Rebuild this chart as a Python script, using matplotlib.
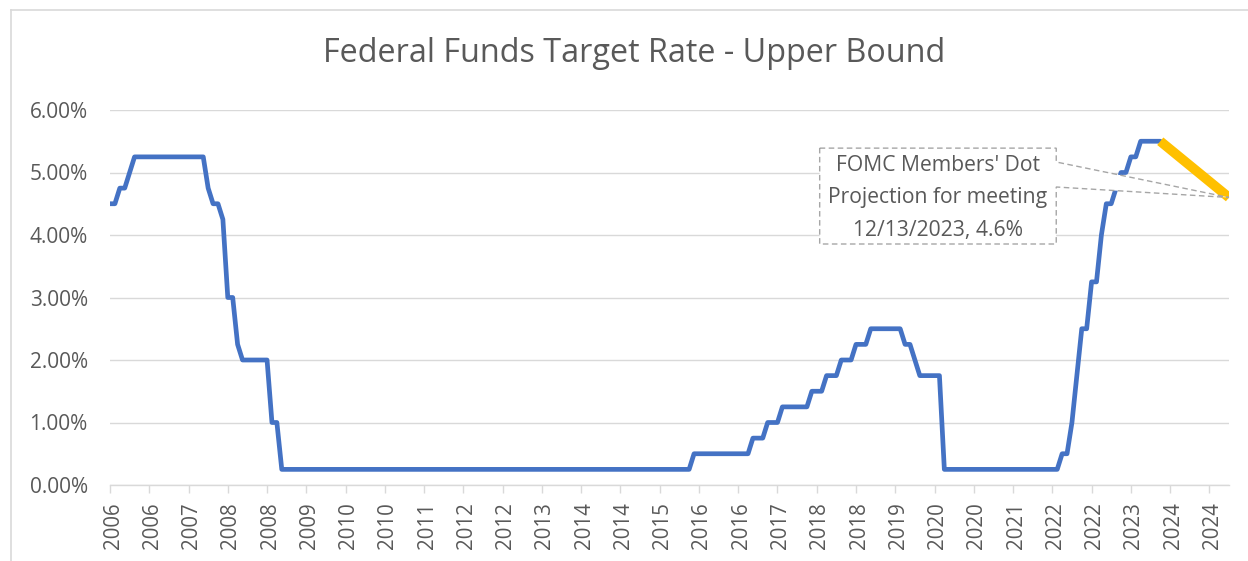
import numpy as np
import matplotlib.pyplot as plt
import matplotlib.transforms as mtransforms
from matplotlib.patches import Polygon
from matplotlib.lines import Line2D

plt.rcParams['font.family'] = ['Open Sans', 'DejaVu Sans']

# upper bound of fed funds target, end of month, Jan 2006 .. Nov 2023
rates_2006 = [4.50, 4.50, 4.75, 4.75, 5.00, 5.25, 5.25, 5.25, 5.25, 5.25, 5.25, 5.25]
rates_2007 = [5.25, 5.25, 5.25, 5.25, 5.25, 5.25, 5.25, 5.25, 4.75, 4.50, 4.50, 4.25]
rates_2008 = [3.00, 3.00, 2.25, 2.00, 2.00, 2.00, 2.00, 2.00, 2.00, 1.00, 1.00, 0.25]
rates_2009 = [0.25] * 12
rates_2010 = [0.25] * 12
rates_2011 = [0.25] * 12
rates_2012 = [0.25] * 12
rates_2013 = [0.25] * 12
rates_2014 = [0.25] * 12
rates_2015 = [0.25, 0.25, 0.25, 0.25, 0.25, 0.25, 0.25, 0.25, 0.25, 0.25, 0.25, 0.50]
rates_2016 = [0.50, 0.50, 0.50, 0.50, 0.50, 0.50, 0.50, 0.50, 0.50, 0.50, 0.50, 0.75]
rates_2017 = [0.75, 0.75, 1.00, 1.00, 1.00, 1.25, 1.25, 1.25, 1.25, 1.25, 1.25, 1.50]
rates_2018 = [1.50, 1.50, 1.75, 1.75, 1.75, 2.00, 2.00, 2.00, 2.25, 2.25, 2.25, 2.50]
rates_2019 = [2.50, 2.50, 2.50, 2.50, 2.50, 2.50, 2.25, 2.25, 2.00, 1.75, 1.75, 1.75]
rates_2020 = [1.75, 1.75, 0.25, 0.25, 0.25, 0.25, 0.25, 0.25, 0.25, 0.25, 0.25, 0.25]
rates_2021 = [0.25] * 12
rates_2022 = [0.25, 0.25, 0.50, 0.50, 1.00, 1.75, 2.50, 2.50, 3.25, 3.25, 4.00, 4.50]
rates_2023 = [4.50, 4.75, 5.00, 5.00, 5.25, 5.25, 5.50, 5.50, 5.50, 5.50, 5.50]

rates = (rates_2006 + rates_2007 + rates_2008 + rates_2009 + rates_2010 + rates_2011
         + rates_2012 + rates_2013 + rates_2014 + rates_2015 + rates_2016 + rates_2017
         + rates_2018 + rates_2019 + rates_2020 + rates_2021 + rates_2022 + rates_2023)

# dot projection: from Nov 2023 to Jan 2025 (month index)
proj_x = [214, 228]
proj_y = [5.50, 4.60]

tick_labels = ['2006', '2006', '2007', '2008', '2008', '2009', '2010', '2010', '2011', '2012',
               '2012', '2013', '2014', '2014', '2015', '2016', '2016', '2017', '2018', '2018',
               '2019', '2020', '2020', '2021', '2022', '2022', '2023', '2024', '2024']

callout = "FOMC Members' Dot\nProjection for meeting\n12/13/2023, 4.6%"

txt = '#595959'
grid = '#D9D9D9'

fig = plt.figure(figsize=(12.48, 5.61), dpi=100)
ax = fig.add_axes([110/1248, 1 - 485/561, (1229-110)/1248, (485-110)/561])

x = np.arange(len(rates))
ax.plot(x, rates, color='#4472C4', lw=3.4, solid_joinstyle='round', solid_capstyle='round', zorder=3)
ax.plot(proj_x, proj_y, color='#FFC000', lw=7, solid_capstyle='butt', zorder=4)

ax.set_xlim(0, 228)
ax.set_ylim(0, 6)
ax.set_yticks(np.arange(0, 7, 1))
ax.set_yticklabels([f'{v:.2f}%' for v in np.arange(0, 7, 1)])
ax.set_xticks(np.arange(len(tick_labels)) * 8)
ax.set_xticklabels(tick_labels, rotation=90)

ax.grid(axis='y', color=grid, lw=1.0, zorder=0)
for s in ['top', 'right', 'left']:
    ax.spines[s].set_visible(False)
ax.spines['bottom'].set_color(grid)
ax.spines['bottom'].set_linewidth(1.0)
ax.tick_params(axis='y', length=0, pad=16, labelsize=15, labelcolor=txt)
ax.tick_params(axis='x', length=5.5, width=1.0, color=grid, pad=7, labelsize=14.8, labelcolor=txt)

# nudge the rotated year labels a little to the right, as in the original
shift = mtransforms.ScaledTranslation(3/100, 0, fig.dpi_scale_trans)
for lab in ax.get_xticklabels():
    lab.set_transform(lab.get_transform() + shift)

# callout box with wedge to the last projection point
L, R, T, B = 144.6, 192.8, 5.39, 3.856
y1, y2 = 5.168, 4.768
poly = Polygon([(L, T), (R, T), (R, y1), (proj_x[-1], proj_y[-1]), (R, y2), (R, B), (L, B)],
               closed=True, facecolor='white', edgecolor='#A6A6A6', lw=1.0,
               linestyle=(0, (4, 2.5)), zorder=5, clip_on=False)
ax.add_patch(poly)
ax.text((L + R) / 2, (T + B) / 2 - 0.03, callout, ha='center', va='center', fontsize=15.2,
        color=txt, linespacing=1.72, zorder=6)

fig.text(634/1248, 1 - 53/561, 'Federal Funds Target Rate - Upper Bound', ha='center', va='center',
         fontsize=23.3, color=txt)

# chart border
fig.add_artist(Line2D([11/1248, 11/1248], [0, 1 - 10/561], color=grid, lw=1.2))
fig.add_artist(Line2D([11/1248, 1], [1 - 10/561, 1 - 10/561], color=grid, lw=1.2))

fig.savefig('out.png', dpi=100)
